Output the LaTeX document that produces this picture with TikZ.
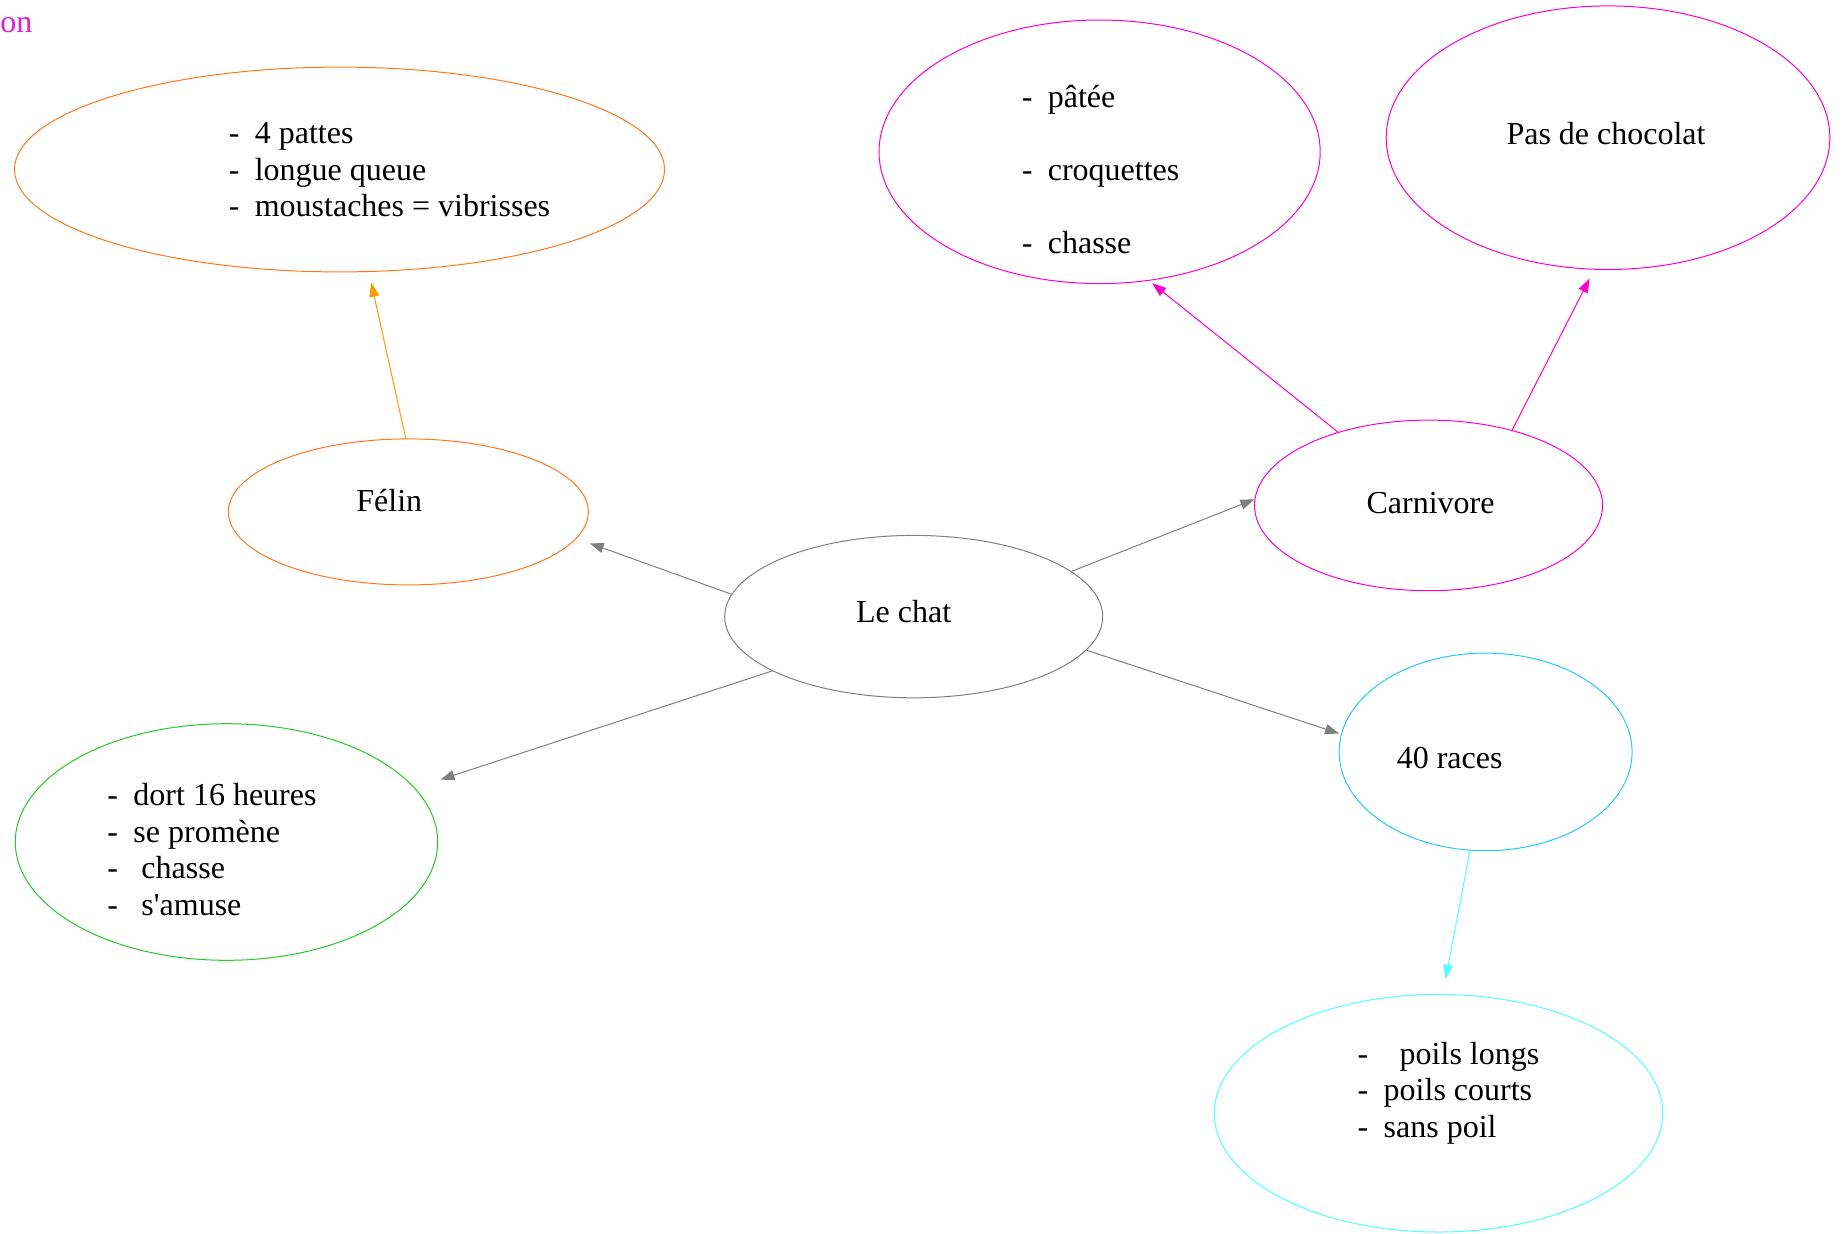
\documentclass[tikz,border=0pt]{standalone}
\usepackage{fontspec}
\setmainfont{Liberation Serif}
\usetikzlibrary{positioning, arrows.meta, shapes.geometric}

\definecolor{felinorange}{RGB}{255,120,30}
\definecolor{felinarrow}{RGB}{255,153,0}
\definecolor{carnmagenta}{RGB}{255,0,204}
\definecolor{ontext}{RGB}{220,30,220}
\definecolor{lechatgray}{RGB}{128,128,128}
\definecolor{habitgreen}{RGB}{40,200,40}
\definecolor{racesblue}{RGB}{40,200,255}
\definecolor{poilcyan}{RGB}{80,255,255}

% dash of a list item, #1 = room up to the text
\newcommand{\itm}[1][13pt]{\makebox[#1][l]{-}\ignorespaces}

\begin{document}
\begin{tikzpicture}[%
		x=0.5pt, y=-0.5pt,
		font=\fontsize{16}{18.25}\selectfont,
		bubble/.style={
			ellipse,
			inner sep=0pt,
			line width=0.5pt,
			draw
		},
		bubbletext/.style={
			align=left,
			inner sep=0pt,
			text=black
		},
		linkarrow/.style={
			line width=0.5pt,
			-{Triangle[length=7pt,width=5pt]}
		}]

		\useasboundingbox (0,0) rectangle (1845,1233);

		\node[ontext, anchor=base west, inner sep=0pt] (cornertext) at (0,32) {on};

		% CENTRE

		\node[bubble, draw=lechatgray, minimum width=189pt, minimum height=81.2pt,
			label={[bubbletext, shift={(-10,-5.5)}]center:Le chat}] (lechat) at (913.7,616.6) {};

		% FELIN BRANCH

		\node[bubble, draw=felinorange, minimum width=180pt, minimum height=73pt,
			label={[bubbletext, shift={(-19,-11)}]center:Félin}] (felin) at (408.3,511.9) {};
		\node[bubble, draw=felinorange, minimum width=325pt, minimum height=102.4pt,
			label={[bubbletext, shift={(50,0.5)}]center:\itm 4 pattes\\ \itm longue queue\\ \itm moustaches = vibrisses}] (legs) at (339.5,169.5) {};

		% CARNIVORE BRANCH

		\node[bubble, draw=carnmagenta, minimum width=174pt, minimum height=85.3pt,
			label={[bubbletext, shift={(2,-2.5)}]center:Carnivore}] (carnivore) at (1428.5,505.4) {};
		\node[bubble, draw=carnmagenta, minimum width=220.6pt, minimum height=131.8pt,
			label={[bubbletext, shift={(1,17.5)}]center:\itm pâtée\\[18.25pt] \itm croquettes\\[18.25pt] \itm chasse}] (food) at (1099.6,151.8) {};
		\node[bubble, draw=carnmagenta, minimum width=221.8pt, minimum height=131.8pt,
			label={[bubbletext, shift={(-2,-4.5)}]center:Pas de chocolat}] (chocolate) at (1608,137.7) {};

		% HABITS

		\node[bubble, draw=habitgreen, minimum width=211.2pt, minimum height=118.3pt,
			label={[bubbletext, shift={(-14.5,7.5)}]center:\itm dort 16 heures\\ \itm se promène\\ \itm[17pt] chasse\\ \itm[17pt] s\textquotesingle amuse}] (habits) at (226.5,842) {};

		% RACES BRANCH

		\node[bubble, draw=racesblue, minimum width=146.5pt, minimum height=98.8pt,
			label={[bubbletext, shift={(-36,6.5)}]center:40 races}] (races) at (1485.6,751.9) {};
		\node[bubble, draw=poilcyan, minimum width=224.2pt, minimum height=118.8pt,
			label={[bubbletext, shift={(10,-20)}]center:\itm[21pt] poils longs\\ \itm poils courts\\ \itm sans poil}] (coats) at (1438.5,1113.2) {};

		% LINKS

		\draw[linkarrow, lechatgray, shorten >=7pt] (lechat.173) -- (felin.-9.2);
		\draw[linkarrow, lechatgray, shorten >=13.4pt] (lechat.201) -- (habits.16.9);
		\draw[linkarrow, lechatgray] (lechat.16.3) -- (carnivore.178.3);
		\draw[linkarrow, lechatgray, shorten >=1pt] (lechat.-11.5) -- (races.173.1);

		\draw[linkarrow, felinarrow, shorten >=5.5pt] (felin.92.7) -- (legs.-74);
		\draw[linkarrow, carnmagenta, shorten >=2pt] (carnivore.141.5) -- (food.-69.2);
		\draw[linkarrow, carnmagenta, shorten >=5pt] (carnivore.42.6) -- (chocolate.-96.4);
		\draw[linkarrow, poilcyan, shorten >=7.7pt] (races.261.5) -- (coats.88.2);
\end{tikzpicture}
\end{document}
